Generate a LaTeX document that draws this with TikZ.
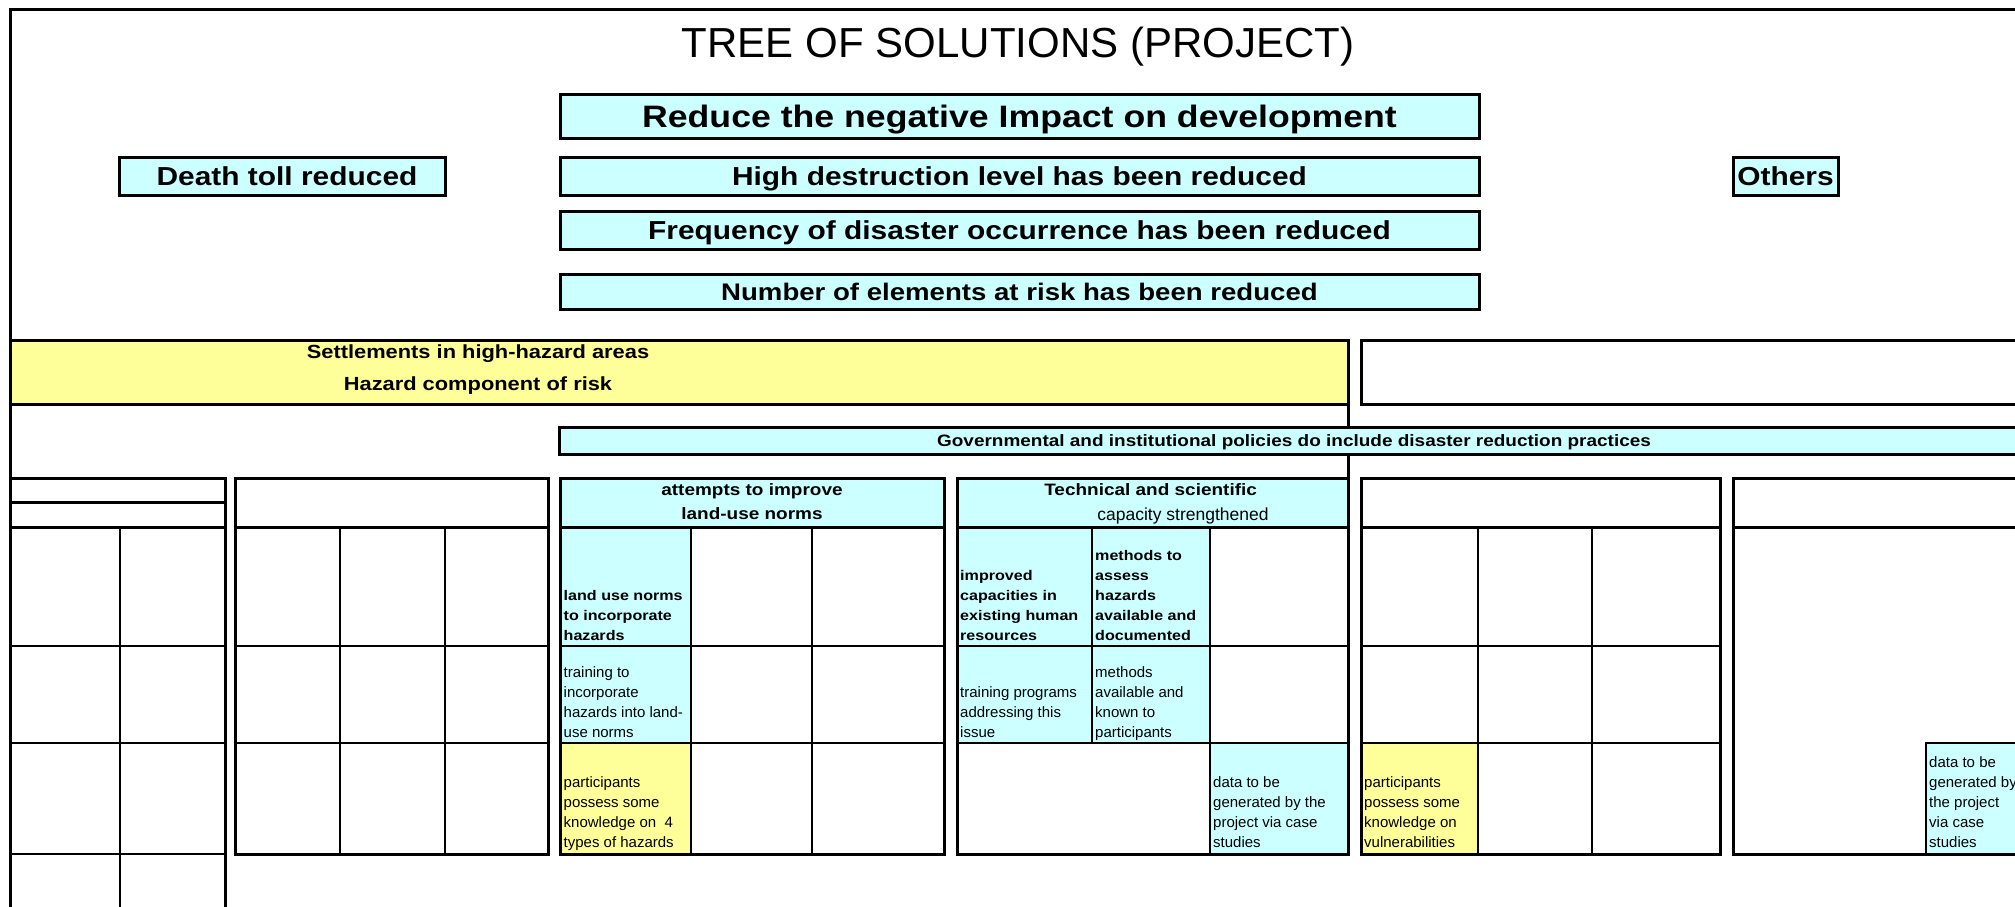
\documentclass[tikz,border=0pt]{standalone}
\usepackage{fontspec}
\setmainfont{Liberation Sans}
\newfontfamily\wbf[FakeStretch=1.15]{Liberation Sans}
\definecolor{cy}{HTML}{CCFFFF}
\definecolor{ye}{HTML}{FFFF99}
\newcommand\fsz[2]{\fontsize{#1}{#2}\selectfont}
\begin{document}
\begin{tikzpicture}[x=1pt,y=-1pt,
 outer/.style={line width=3pt},
 inner/.style={line width=2pt},
 tbox/.style={draw, line width=3pt, fill=cy, inner sep=0pt, font=\wbf\bfseries\fsz{26}{30}, text height=18.6pt, text depth=0pt},
 lbl/.style={inner sep=0pt, text depth=0pt},
 hdr/.style={lbl, font=\wbf\bfseries\fsz{16.5}{20}, text height=11.8pt},
 cellb/.style={anchor=south west, inner sep=0pt, align=left, text depth=0pt, font=\wbf\bfseries\fsz{14}{20}},
 cellr/.style={anchor=south west, inner sep=0pt, align=left, text depth=0pt, font=\fsz{15}{20}},
]
\useasboundingbox (0,0) rectangle (2015,907);
\fill[white] (0,0) rectangle (2015,907);
\clip (0,0) rectangle (2015,907);

% frame
\draw[outer] (10,920) -- (10,10) -- (2030,10);

% title
\node[anchor=base, inner sep=0pt, font=\fsz{42}{50}] (title) at (1018,57) {TREE OF SOLUTIONS (PROJECT)};

% top boxes
\node[tbox, minimum width=919pt, minimum height=44pt, font=\wbf\bfseries\fsz{31}{36}, text height=22.2pt] (goal) at (1019.5,116) {Reduce the negative Impact on development};
\node[tbox, minimum width=326pt, minimum height=38pt] (death) at (282,176) {\hspace*{10pt}Death toll reduced};
\node[tbox, minimum width=919pt, minimum height=38pt] (high) at (1019.5,176) {High destruction level has been reduced};
\node[tbox, minimum width=919pt, minimum height=38pt] (freq) at (1019.5,230) {Frequency of disaster occurrence has been reduced};
\node[tbox, minimum width=919pt, minimum height=35pt, font=\wbf\bfseries\fsz{24}{28}, text height=17.2pt] (numb) at (1019.5,291.5) {Number of elements at risk has been reduced};
\node[tbox, minimum width=105pt, minimum height=38pt] (others) at (1785.5,176) {Others};

% yellow band
\filldraw[fill=ye, outer] (10,340) rectangle (1348,404);
\node[lbl, font=\wbf\bfseries\fsz{19}{22}, text height=13.6pt] (set1) at (478,352) {Settlements in high-hazard areas};
\node[lbl, font=\wbf\bfseries\fsz{19}{22}, text height=13.6pt] (set2) at (478,384) {Hazard component of risk};
\draw[outer] (1361,340) rectangle (2030,404);
\draw[outer] (1348,404) -- (1348,478);

% governmental box
\filldraw[fill=cy, outer] (559.5,427.5) rectangle (2030,454);
\node[hdr] (gov) at (1294,441) {Governmental and institutional policies do include disaster reduction practices};

% group 1
\draw[inner] (120,527) -- (120,920);
\foreach \y in {646,743,854} \draw[inner] (10,\y) -- (225,\y);
\draw[outer] (10,478) -- (225,478) -- (225,920);
\draw[outer] (10,502) -- (225,502);
\draw[outer] (10,527) -- (225,527);

% group 2
\draw[inner] (340,527) -- (340,854) (444.5,527) -- (444.5,854) (235.5,646) -- (548.5,646) (235.5,743) -- (548.5,743);
\draw[outer] (235.5,527) -- (548.5,527);
\draw[outer] (235.5,478) rectangle (548.5,854);

% group 3
\fill[cy] (560,478) rectangle (944,527);
\fill[cy] (560,527) rectangle (691,743);
\fill[ye] (560,743) rectangle (691,854);
\draw[inner] (691,527) -- (691,854) (811.5,527) -- (811.5,854) (560,646) -- (944,646) (560,743) -- (944,743);
\draw[outer] (560,527) -- (944,527);
\draw[outer] (560,478) rectangle (944,854);

% group 4
\fill[cy] (957,478) rectangle (1348,527);
\fill[cy] (957,527) rectangle (1210,743);
\fill[cy] (1210,743) rectangle (1348,854);
\draw[inner] (1092,527) -- (1092,743) (1210,527) -- (1210,854) (957,646) -- (1348,646) (957,743) -- (1348,743);
\draw[outer] (957,527) -- (1348,527);
\draw[outer] (957,478) rectangle (1348,854);

% group 5
\fill[ye] (1361,743) rectangle (1478,854);
\draw[inner] (1478,527) -- (1478,854) (1592,527) -- (1592,854) (1361,646) -- (1720,646) (1361,743) -- (1720,743);
\draw[outer] (1361,527) -- (1720,527);
\draw[outer] (1361,478) rectangle (1720,854);

% group 6
\fill[cy] (1926,743) rectangle (2030,854);
\draw[inner] (1926,854) -- (1926,743) -- (2030,743);
\draw[outer] (1733,527) -- (2030,527);
\draw[outer] (1733,478) rectangle (2030,854);

% headers
\node[hdr] (att1) at (752,490) {attempts to improve};
\node[hdr] (att2) at (752,514) {land-use norms};
\node[hdr] (tech1) at (1150.6,490) {Technical and scientific};
\node[lbl, font=\fsz{17.5}{20}, text height=12.5pt] (tech2) at (1183,514) {capacity strengthened};

% cell texts
\node[cellb] (c1) at (563.5,641) {land use norms\\to incorporate\\hazards};
\node[cellr] (c2) at (563.5,738) {training to\\incorporate\\hazards into land-\\use norms};
\node[cellr] (c3) at (563.5,848) {participants\\possess some\\knowledge on\ \ 4\\types of hazards};
\node[cellb] (c4) at (960,641) {improved\\capacities in\\existing human\\resources};
\node[cellb] (c5) at (1095,641) {methods to\\assess\\hazards\\available and\\documented};
\node[cellr] (c6) at (960,738) {training programs\\addressing this\\issue};
\node[cellr] (c7) at (1095,738) {methods\\available and\\known to\\participants};
\node[cellr] (c8) at (1213,848) {data to be\\generated by the\\project via case\\studies};
\node[cellr] (c9) at (1364,848) {participants\\possess some\\knowledge on\\vulnerabilities};
\node[cellr] (c10) at (1929,848) {data to be\\generated by\\the project\\via case\\studies};
\end{tikzpicture}
\end{document}
